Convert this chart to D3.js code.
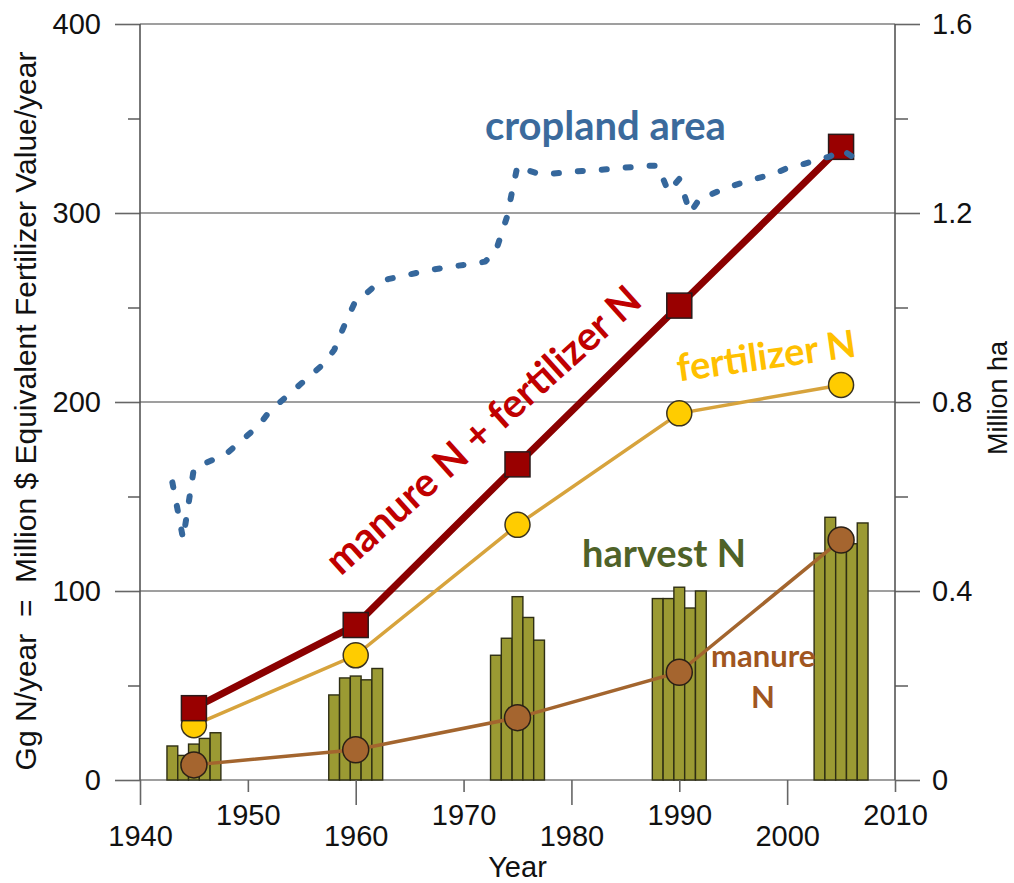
<!DOCTYPE html>
<html>
<head>
<meta charset="utf-8">
<script src="https://cdn.jsdelivr.net/npm/d3@7"></script>
<style>
  body { margin: 0; background: #fff; }
  svg { display: block; }
</style>
</head>
<body>
<div id="chart"></div>
<script>

const width = 1014;
const height = 883;
const margin = { top: 24, right: 119, bottom: 103, left: 140 };

// N series, one value per point year
const pointYears = [1945, 1960, 1975, 1990, 2005];
const totalN = [38, 82, 167, 251, 335];
const fertilizerN = [29, 66, 135, 194, 209];
const manureN = [8, 16, 33, 57, 127];

// harvest N bars, five years round each point year
const harvestYears = [1943, 1944, 1945, 1946, 1947,
                      1958, 1959, 1960, 1961, 1962,
                      1973, 1974, 1975, 1976, 1977,
                      1988, 1989, 1990, 1991, 1992,
                      2003, 2004, 2005, 2006, 2007];
const harvestN = [18, 13, 19, 22, 25,
                  45, 54, 55, 53, 59,
                  66, 75, 97, 86, 74,
                  96, 96, 102, 91, 100,
                  120, 139, 125, 125, 136];

// cropland area (million ha, right axis)
const cropYears = [1943, 1944, 1945, 1946, 1947, 1948, 1949, 1950, 1951, 1952,
                   1953, 1954, 1955, 1956, 1957, 1958, 1959, 1960, 1961, 1962,
                   1963, 1964, 1965, 1966, 1967, 1968, 1969, 1970, 1971, 1972,
                   1973, 1974, 1975, 1976, 1977, 1978, 1979, 1980, 1981, 1982,
                   1983, 1984, 1985, 1986, 1987, 1988, 1989, 1990, 1991, 1992,
                   1993, 1994, 1995, 1996, 1997, 1998, 1999, 2000, 2001, 2002,
                   2003, 2004, 2005, 2006, 2007];
const cropArea = [0.63, 0.51, 0.66, 0.67, 0.68, 0.69, 0.71, 0.73, 0.75, 0.78,
                  0.80, 0.82, 0.84, 0.86, 0.88, 0.91, 0.965, 1.015, 1.03, 1.05,
                  1.06, 1.065, 1.07, 1.075, 1.08, 1.083, 1.087, 1.09, 1.093, 1.097,
                  1.12, 1.19, 1.30, 1.29, 1.283, 1.283, 1.285, 1.287, 1.289, 1.29,
                  1.292, 1.294, 1.296, 1.298, 1.30, 1.30, 1.245, 1.272, 1.20, 1.234,
                  1.24, 1.25, 1.258, 1.265, 1.272, 1.278, 1.285, 1.295, 1.30, 1.307,
                  1.314, 1.32, 1.335, 1.32, 1.29];

const leftTicks = [0, 100, 200, 300, 400];
const leftMinor = [50, 150, 250, 350];
const rightTicks = [0, 0.4, 0.8, 1.2, 1.6];
const rightMinor = [0.2, 0.6, 1.0, 1.4];
const yearLow = [1940, 1960, 1980, 2000];
const yearHigh = [1950, 1970, 1990, 2010];

const axisFont = "'Liberation Sans', Arial, sans-serif";
const labelFont = "Lato, 'Open Sans', sans-serif";

const svg = d3.select('#chart')
  .append('svg')
  .attr('width', width)
  .attr('height', height);

// échelles
const x = d3.scaleLinear()
  .domain([1940, 2010])
  .range([margin.left, width - margin.right]);

const y = d3.scaleLinear()
  .domain([0, 400])
  .range([height - margin.bottom, margin.top]);

const yR = d3.scaleLinear()
  .domain([0, 1.6])
  .range([height - margin.bottom, margin.top]);

// grid
svg.append('g')
  .selectAll('line')
  .data(leftTicks)
  .join('line')
  .attr('x1', margin.left)
  .attr('x2', width - margin.right)
  .attr('y1', d => y(d))
  .attr('y2', d => y(d))
  .attr('stroke', '#7f7f7f')
  .attr('stroke-width', 1.6);

// harvest bars
const barW = x(1941) - x(1940);
svg.append('g')
  .selectAll('rect')
  .data(harvestN)
  .join('rect')
  .attr('x', (d, i) => x(harvestYears[i]) - barW / 2)
  .attr('y', d => y(d))
  .attr('width', barW)
  .attr('height', d => y(0) - y(d))
  .attr('fill', '#9b9a33')
  .attr('stroke', '#2e2e14')
  .attr('stroke-width', 1.4);

// axes
function styleAxis(g) {
  g.select('.domain').remove();
  g.selectAll('.tick line').attr('stroke', '#666').attr('stroke-width', 1.6);
  g.selectAll('.tick text')
    .attr('fill', '#111')
    .style('font-family', axisFont)
    .style('font-size', '29px');
}

svg.append('g')
  .attr('transform', `translate(${margin.left},0)`)
  .call(d3.axisLeft(y).tickValues(leftTicks).tickSize(25).tickPadding(14).tickFormat(d3.format('d')))
  .call(styleAxis);

svg.append('g')
  .attr('transform', `translate(${margin.left},0)`)
  .call(d3.axisLeft(y).tickValues(leftMinor).tickSize(12).tickFormat(''))
  .call(styleAxis);

const xr = width - margin.right;
svg.append('g')
  .attr('transform', `translate(${xr},0)`)
  .call(d3.axisRight(yR).tickValues(rightTicks).tickSize(25).tickPadding(12)
    .tickFormat(d => d === 0 ? '0' : d3.format('.1f')(d)))
  .call(styleAxis);

svg.append('g')
  .attr('transform', `translate(${xr},0)`)
  .call(d3.axisRight(yR).tickValues(rightMinor).tickSize(13).tickFormat(''))
  .call(styleAxis);

const yb = height - margin.bottom;
svg.append('g')
  .attr('transform', `translate(0,${yb})`)
  .call(d3.axisBottom(x).tickValues(yearLow).tickSize(25).tickPadding(20).tickFormat(d3.format('d')))
  .call(styleAxis);

svg.append('g')
  .attr('transform', `translate(0,${yb})`)
  .call(d3.axisBottom(x).tickValues(yearHigh).tickSize(12).tickPadding(12).tickFormat(d3.format('d')))
  .call(styleAxis);

// frame sides
svg.append('g')
  .selectAll('line')
  .data([margin.left, xr])
  .join('line')
  .attr('x1', d => d).attr('x2', d => d)
  .attr('y1', margin.top).attr('y2', yb)
  .attr('stroke', '#555')
  .attr('stroke-width', 1.6);

// axis titles
svg.append('text')
  .attr('transform', `translate(36,${(margin.top + yb) / 2 + 9}) rotate(-90)`)
  .attr('text-anchor', 'middle')
  .style('font-family', axisFont)
  .style('font-size', '30px')
  .style('white-space', 'pre')
  .attr('fill', '#111')
  .text('Gg N/year  =  Million $ Equivalent Fertilizer Value/year');

svg.append('text')
  .attr('transform', `translate(1007,${(margin.top + yb) / 2 - 4}) rotate(-90)`)
  .attr('text-anchor', 'middle')
  .style('font-family', axisFont)
  .style('font-size', '27px')
  .attr('fill', '#111')
  .text('Million ha');

svg.append('text')
  .attr('x', (margin.left + xr) / 2)
  .attr('y', 877)
  .attr('text-anchor', 'middle')
  .style('font-family', axisFont)
  .style('font-size', '29px')
  .attr('fill', '#111')
  .text('Year');

// series lines
const line = d3.line()
  .x((d, i) => x(pointYears[i]))
  .y(d => y(d));

svg.append('path')
  .datum(manureN)
  .attr('d', line)
  .attr('fill', 'none')
  .attr('stroke', '#a3652e')
  .attr('stroke-width', 3.5);

svg.append('g')
  .selectAll('circle')
  .data(manureN)
  .join('circle')
  .attr('cx', (d, i) => x(pointYears[i]))
  .attr('cy', d => y(d))
  .attr('r', 13)
  .attr('fill', '#a5652f')
  .attr('stroke', '#2b2016')
  .attr('stroke-width', 1.5);

svg.append('path')
  .datum(fertilizerN)
  .attr('d', line)
  .attr('fill', 'none')
  .attr('stroke', '#d7a33c')
  .attr('stroke-width', 3.5);

svg.append('g')
  .selectAll('circle')
  .data(fertilizerN)
  .join('circle')
  .attr('cx', (d, i) => x(pointYears[i]))
  .attr('cy', d => y(d))
  .attr('r', 12.5)
  .attr('fill', '#ffcc00')
  .attr('stroke', '#3a3320')
  .attr('stroke-width', 1.5);

svg.append('path')
  .datum(totalN)
  .attr('d', line)
  .attr('fill', 'none')
  .attr('stroke', '#8b0000')
  .attr('stroke-width', 7);

const sq = 25;
svg.append('g')
  .selectAll('rect')
  .data(totalN)
  .join('rect')
  .attr('x', (d, i) => x(pointYears[i]) - sq / 2)
  .attr('y', d => y(d) - sq / 2)
  .attr('width', sq)
  .attr('height', sq)
  .attr('fill', '#990000')
  .attr('stroke', '#2a1a1a')
  .attr('stroke-width', 1.5);

// cropland area, dashed
const cropLine = d3.line()
  .x((d, i) => x(cropYears[i]))
  .y(d => yR(d));

svg.append('path')
  .datum(cropArea)
  .attr('d', cropLine)
  .attr('fill', 'none')
  .attr('stroke', '#35679c')
  .attr('stroke-width', 6)
  .attr('stroke-linecap', 'round')
  .attr('stroke-linejoin', 'round')
  .attr('stroke-dasharray', '5 19');

// series labels
const labels = svg.append('g')
  .style('font-family', labelFont)
  .style('font-weight', 700);

labels.append('text')
  .attr('x', 485).attr('y', 140)
  .style('font-size', '40px')
  .attr('fill', '#3b6a9c')
  .text('cropland area');

labels.append('text')
  .attr('transform', 'translate(483,430) rotate(-42)')
  .attr('text-anchor', 'middle')
  .attr('dy', '0.35em')
  .style('font-size', '40px')
  .attr('fill', '#c00000')
  .text('manure N + fertilizer N');

labels.append('text')
  .attr('transform', 'translate(768,369) rotate(-8)')
  .attr('text-anchor', 'middle')
  .style('font-size', '38px')
  .attr('fill', '#ffc000')
  .text('fertilizer N');

labels.append('text')
  .attr('x', 582).attr('y', 567)
  .style('font-size', '38px')
  .attr('fill', '#4f6228')
  .text('harvest N');

labels.append('text')
  .attr('x', 711).attr('y', 667)
  .style('font-size', '31px')
  .attr('fill', '#a0561f')
  .text('manure');

labels.append('text')
  .attr('x', 763).attr('y', 708)
  .attr('text-anchor', 'middle')
  .style('font-size', '31px')
  .attr('fill', '#a0561f')
  .text('N');

</script>
</body>
</html>
